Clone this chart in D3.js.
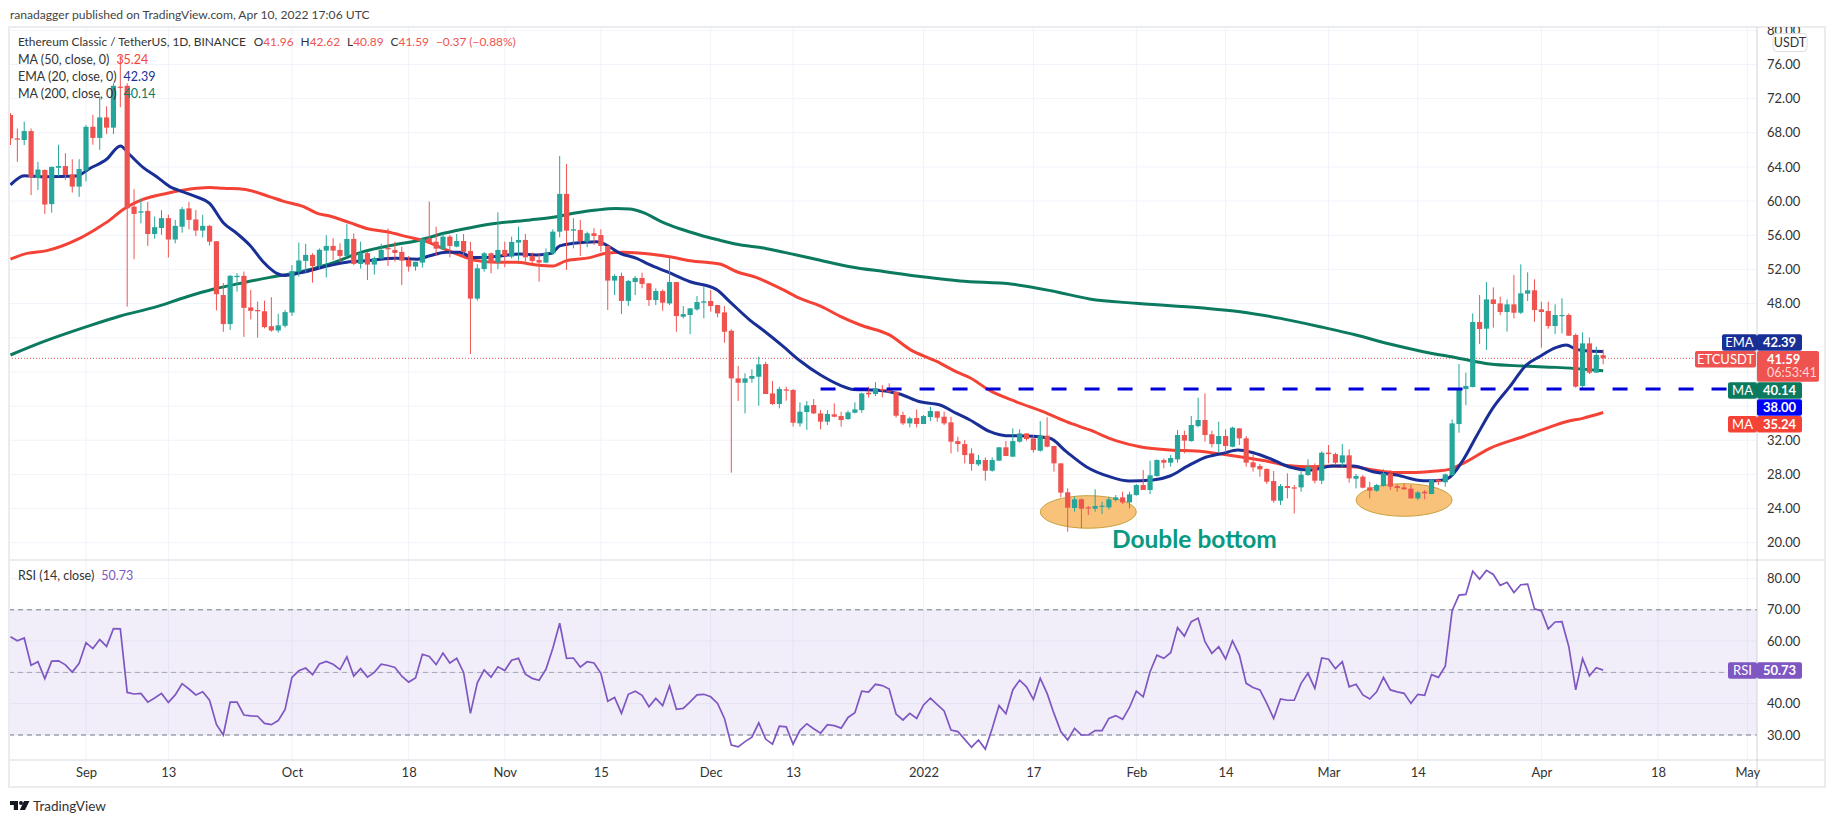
<!DOCTYPE html>
<html>
<head>
<meta charset="utf-8">
<title>ETCUSDT</title>
<script src="https://d3js.org/d3.v7.min.js"></script>
<style>
  html, body { margin: 0; padding: 0; background: #fff; overflow: hidden; }
  svg text { font-family: Lato, "Noto Sans", sans-serif; }
</style>
</head>
<body>
<svg id="chart" width="1834" height="823"></svg>
<script>
// one candle per day, first bar is 2021-08-21
const firstBar = Date.UTC(2021, 7, 21);

const opens = [70.08,67.35,67.15,68.2,62.7,63.65,59.65,63.9,64.1,63.1,61.7,63.6,68.7,67.4,69.8,68.6,73.4,73.5,59.35,58.65,58.85,56.15,56.85,58,55.5,57,59.15,57.85,56.55,57.1,55.3,49,45.6,51.1,51.25,47.55,47.25,47.1,45.35,44.85,45.4,46.95,51.75,53,53.7,52.4,54.2,
  54.75,54.28,53.58,55.57,52.64,53.9,52.57,53.27,54.5,54.28,54.05,53.1,52.33,52.8,55.65,55.25,54.36,55.84,54.67,55.33,54.16,48.58,52.05,53.89,52.8,54.28,53.5,55.14,55.45,53.58,53.1,52.8,53.89,56.42,60.84,56.54,56.62,55.25,56.23,56.03,54.75,50.69,51.23,48.31,50.53,51,50.37,
  48.41,49.47,48.02,50.52,46.46,46.66,47.32,48.1,48.3,47.83,46.97,44.82,39.24,38.73,39.2,39.44,40.92,37.48,36.24,37.95,37.88,33.97,35.3,36.12,35.14,34.17,35.03,34.83,34.48,35.22,35.53,37.56,37.41,38,37.88,37.68,34.95,33.97,34.6,33.9,34.71,35.38,34.75,34.09,31.9,31.55,
  30.46,29.17,29.68,28.43,29.6,31.17,30.07,31.83,32.8,32.22,30.77,32.53,31.32,29.29,25.9,24.06,25.08,24.14,23.98,24.2,24.14,25,25.31,24.72,25.58,26.75,26.17,27.81,29.68,29.37,29.76,32.61,31.9,33.66,34.37,32.69,31.55,32.49,31.24,33.39,32.22,29.41,28.98,28.63,27.22,24.92,26.64,
  26.48,26.48,27.92,29.09,27.26,30.54,30.38,29.37,30.23,27.49,27.73,26.48,26.09,26.63,28.12,26.63,26.48,26.32,25.19,25.97,25.7,27.34,27.07,27.92,33.89,37.99,38.23,45.84,45.06,48.49,48.02,47.01,47.91,46.93,49.16,49.55,47.32,47.13,45.37,46.54,46.66,44.32,38.35,43.34,39.91,41.96];
const highs = [70.3,68.5,69.3,68.5,64.6,63.7,64.05,66.6,65.6,64.9,64.9,68.9,70.1,72.2,71.1,73.8,77,73.8,61.4,60.3,59.9,58.2,58.95,58.4,57.8,59.3,59.9,58.95,58.4,57.2,55.3,50.4,51.35,51.55,51.75,49.6,48.25,48.35,48.75,46.8,47.25,52.5,55.15,55,53.9,54.45,56,
  55.65,55.05,57.3,56.2,55.25,54.08,53.5,55,56.8,55.25,54.67,53.58,52.9,55.76,59.94,57,56.15,56.03,56.15,56.15,55.22,52.6,54.04,53.97,58.69,55.25,55.84,57,56.15,53.97,53.89,54.47,56.7,65.29,64.35,57.99,57.79,56.43,56.82,56.7,54.75,51.43,51.62,50.77,51.23,51.62,50.37,
  49.78,49.66,53.49,50.52,47.71,47.44,48.88,49.98,49.59,47.83,47.71,44.98,40.69,39.83,40.3,41.78,41.19,38.93,38.27,38.27,38,36.43,36.59,36.82,35.53,35.53,36.31,35.34,35.46,36.43,37.56,38.27,38.81,38.46,38.66,37.68,35.34,34.75,35.61,34.95,35.92,35.38,35.34,34.75,32.41,32.02,
  31.05,30.27,29.99,29.99,31.17,31.9,33.39,33.27,32.8,32.61,34.25,34.68,31.32,29.29,26.36,25.39,25.19,24.3,26.25,24.8,25.39,25.58,25.97,25.97,26.87,28.51,29.6,29.76,29.88,30.27,33.19,33.12,34.83,36.98,37.49,33.12,34.17,33.27,33.58,33.39,32.49,30.27,29.21,28.71,28.39,26.87,28.12,
  26.75,28.51,29.76,29.29,30.69,31.44,30.54,31.55,30.93,28.04,27.92,27.14,26.87,28.59,28.51,26.87,26.95,26.75,26.05,26.17,27.45,27.53,28.12,34.44,40.92,39.91,46.85,49,50.52,49.9,48.81,48.49,51.34,52.59,51.66,50.84,48.22,48.22,47.91,48.61,46.85,44.51,44.63,44.04,42.95,42.62];
const lows = [66.57,64.6,66.55,60.7,61.3,58.5,58.65,62.9,62.5,61,60.5,62.3,66.6,66,67.85,67.85,71,47.65,53.2,57.4,54.75,55.6,56.05,53.4,55.05,56.3,56.7,55.9,55.75,54.8,47.2,44.7,44.9,49.4,44.1,46.15,44,45.1,44.7,44.6,45.2,46.55,51.15,51.6,50.45,51.95,51.05,
  53.1,52.9,53.5,52.5,52.1,50.75,51.4,53.18,52.4,52.9,50.18,51.74,51.86,52.2,55.06,53.58,54.28,53.42,54.59,53.7,42.1,48.35,51.74,51.55,52.05,52.25,53.3,53.03,52.9,52.72,50.57,52.72,53.7,55.76,51.94,54.47,53.58,54.59,54.86,54.08,47.25,49,46.78,47.72,49,49.79,47.72,
  47.83,47.17,47.83,44.7,46.27,44.43,47.17,46.27,47.05,46.39,43.42,28.2,36.6,35.14,38.73,36.04,37.41,36.12,35.73,36.63,33.6,33.6,33.2,35.07,33.27,33.78,34.68,33.58,34.36,35.14,35.22,36.98,37.17,37.02,37.48,34.64,33.78,33.5,33.5,33.9,34.24,34.17,33.78,30.46,30.65,29.29,
  28.43,28.98,27.26,28.32,29.6,30.15,30.07,31.71,31.95,30.54,30.66,31.17,28.32,25.31,21.29,23.63,21.68,23.24,23.63,23.36,23.9,24.8,24.53,24.02,25.5,26.17,25.7,27.73,28.71,28.9,29.37,30.46,31.83,33.5,31.83,31.17,30.54,30.54,31.17,31.44,28.9,28.32,27.73,26.87,24.69,24.41,25.19,
  23.43,25.97,27.81,26.95,26.87,29.29,29.21,28.9,27.03,26.36,26.36,25.19,25.97,26.56,26.17,25.97,26.17,25.19,24.99,25.08,25.7,26.75,26.56,27.73,32.88,36.12,38.19,43.26,42.56,45.18,46.66,44.71,46.27,46.78,48.3,45.88,42.83,45.06,44.43,44.51,44.2,38.15,37.95,39.75,39.91,40.89];
const closes = [67.35,67.2,68.2,62.8,63.7,59.6,64,64.1,63.05,61.7,63.75,68.7,67.4,69.8,68.6,73.5,73.3,59.15,58.5,58.8,56.15,56.95,58,55.5,57.1,59.05,57.8,56.55,57.1,55.25,49.1,45.6,51.25,51.25,47.5,47.15,47.1,45.25,44.85,45.45,47,51.8,53.05,53.7,52.4,54.3,54.75,
  54.2,53.58,55.57,52.64,53.9,52.57,53.3,54.28,54.35,53.93,53.03,52.33,52.9,55.53,55.18,54.43,55.84,54.75,55.33,54.05,48.58,52.13,53.89,52.8,54.28,53.58,55.22,55.45,53.42,52.99,52.8,53.97,56.42,60.84,56.54,56.7,55.33,56.23,55.92,54.75,50.69,51.23,48.31,50.65,51,50.3,48.42,
  49.47,48.1,50.52,46.54,46.77,47.44,48.18,48.26,47.71,46.85,44.7,39.24,38.73,39.24,39.52,40.88,37.41,36.24,38,37.8,34.05,35.34,36.08,35.14,34.17,35.07,34.75,34.36,35.26,35.61,37.48,37.37,38.07,37.84,37.68,34.87,33.97,34.56,33.9,34.83,35.42,34.64,33.97,31.83,31.55,30.26,
  29.21,29.68,28.43,29.68,31.17,30.15,31.9,32.8,32.14,30.85,32.53,31.24,29.29,25.86,24.1,25.08,23.98,24.02,24.3,24.33,25.08,25.31,24.72,25.66,26.75,26.17,27.89,29.68,29.37,29.92,32.61,31.95,33.78,34.37,32.61,31.55,32.49,31.32,33.47,32.22,29.37,28.82,28.59,27.14,24.92,26.64,26.4,
  26.33,27.96,28.9,27.26,30.54,30.38,29.37,30.23,27.53,27.8,26.44,26.09,26.75,28.12,26.56,26.4,26.25,25.19,25.89,25.78,27.34,27.14,28,33.97,38.07,38.35,45.84,45.02,48.49,47.95,47.01,47.91,46.93,49.2,49.55,47.24,47.01,45.37,46.66,46.66,44.24,38.27,43.34,39.91,41.98,41.59];

// moving averages, days counted from 2021-09-01
const ema20Days = [-11,-9,-6,-1.4,0.6,3,5,6.4,8.3,10.3,12.2,13.7,16.1,18,20,22,23.9,25.8,27.8,29,31.2,35.5,38.4,40.4,45.2,48.2,50.1,52.5,54.4,56.4,58.3,60.3,63.2,65.6,67.8,69,71,74.4,75.8,77.8,80.2,82.1,84.6,88,91.8,93.8,96.7,98.6,101.6,104,107,109.8,111.8,115,118.5,121.5,124.4,126.8,128.7,131.7,134,137,140.4,142.8,145.7,149.1,152,155.4,157.9,160.3,162.7,165.6,167.8,170,172.4,175.3,178.2,181.6,184.6,187.5,190.9,194.8,196.7,198.4,200.6,202.5,204.9,207.4,209.8,211.7,214.2,215.6,217.1,219,221];
const ema20 = [61.9,62.98,62.86,62.94,63.84,64.9,66.45,65.4,63.95,62.86,61.7,61.2,60.5,59.74,57.47,56.2,54.8,52.9,51.54,51.3,51.6,52.45,52.9,52.99,53.3,53.2,53.6,54,54,53.4,53.4,53.58,53.8,53.7,53.9,54.75,55.06,55.25,54.86,53.89,53.3,52.55,51.73,50.56,49.66,48.2,46.07,44.9,42.95,41.3,39.63,38.46,37.95,37.88,37.41,36.5,36.12,35.14,34.4,33,32.53,32.49,32.22,30.66,28.9,27.73,27.22,27.34,27.81,28.9,29.88,30.46,30.85,30.54,29.88,28.86,28.5,28.98,28.98,28.31,27.92,27.26,27.26,27.53,29.68,32.41,35.73,38.27,40.8,41.78,42.87,43.15,42.64,42.44,42.39];
const ma50Days = [-11,-8.6,-5.7,-1.4,1.6,3.5,5.2,8.3,11.7,16.1,18,20,22.9,26.8,28.7,31.7,33.6,35.5,38.4,40.9,43.8,46.7,49.6,52.5,55,56.9,59.8,62.7,65.6,68,69.9,73.4,75.8,78.2,82.1,85,88,92.3,94.8,97.7,101.6,104,107,109.8,112.8,117.1,120,124,126.8,128.7,131.7,135.5,139.4,142.8,146.2,150,153.5,157.9,161.7,165.6,169,172.4,175.3,178.2,181.6,184.6,187.5,190.4,193.8,196.7,198.6,200.6,204.5,209.3,212.7,215.6,218,221];
const ma50 = [53.2,53.88,54.2,55.45,56.8,57.8,58.9,60.2,60.9,61.5,61.6,61.5,61.4,60.5,60,59.35,58.6,58.25,57.48,56.8,56.4,55.84,55.25,54.28,53.5,53.03,52.83,52.83,52.52,52.4,53,53.38,53.89,54,53.8,53.49,53.02,52.63,51.73,51.03,49.6,48.6,47.71,46.54,45.49,44.3,42.64,41.2,40,39.34,37.8,36.5,35.34,34.17,33.2,31.95,31.24,30.85,30.74,30.35,29.95,29.49,29,28.9,28.98,28.9,28.51,28.23,28.23,28.39,28.59,29.29,31.05,32.41,33.39,34.17,34.56,35.24];
const ma200Days = [-11,-6.2,0.1,5,9.8,14.7,18.5,22.9,26.8,30.7,35.5,40.4,44.8,48.7,52.1,56,59.8,64.7,68,71,74.4,77.2,79.2,81.2,83.8,86.6,89.4,92.2,94.6,99,103.5,106.8,111.3,116.4,122.5,127.3,135,140.6,146.2,152.9,162.3,168.1,174,180.2,185,189.9,194.8,199.6,204.5,209.3,214.2,221];
const ma200 = [41.98,43.54,45.3,46.55,47.52,48.8,49.67,50.45,51.07,51.62,52.65,54.08,54.86,55.45,56.23,56.89,57.4,57.79,58.1,58.57,58.96,59.12,59.08,58.65,57.6,56.73,56.03,55.44,54.97,54.46,53.68,53.1,52.32,51.73,51.07,50.64,50.26,49.5,48.54,48.03,47.5,47.05,46.27,45.21,44.32,43.26,42.37,41.66,40.92,40.69,40.53,40.14];

// RSI, one value per candle
const rsi = [61.4,60.1,61,52.3,53.4,48,53.6,53.7,52.4,50.1,52.9,59.5,57.6,60.5,58.3,64,63.9,43.6,43.1,43.3,40.5,41.8,43.3,40.4,42.8,46.4,44.7,42.8,43.8,41.1,33.4,30,40.5,40.5,36.4,36.1,36,33.7,33.3,34.6,38.2,48.4,50.5,51.4,49.3,52.7,53.5,
  52.6,50.9,55,48.8,51.2,48.5,50,52.6,52.2,51.6,48.8,46.9,48.2,55.8,55.1,52.5,56.2,53,54.5,50,36.9,46.7,50.8,48.5,51.8,50.6,53.9,54.5,49.4,48.1,47.5,51,57.7,65.7,54.5,54.6,51.7,53.4,53,49.7,40.8,42,36.9,43,44,42.7,39.05,41.7,39.4,45.65,38.2,38.5,40.6,42.8,
  43,42.2,40.1,35.3,26.8,26.2,27.9,29.3,33.9,28.7,27.1,32.8,32.6,27.1,31.5,33.6,32,30.6,33.3,33,32.2,35.6,37.1,44,43.7,46.2,45.8,44.7,36.7,34.8,36.9,35.3,39.6,41.8,39.7,37.7,31.6,31.1,28.6,26.1,28.4,25.5,32.1,39.4,36.8,44.4,47.5,45.4,41.4,48.1,43.3,36.9,31.1,28.4,32.1,30,30,31.4,31.4,35.3,36.2,35,38.8,44,42.2,50.2,55.5,54.5,56.3,64.3,61.6,66.2,67.3,59.8,56.1,58.2,54.3,60.1,55.6,46.5,45.2,44.4,40.1,35.3,41.5,41.1,41.1,46.5,49.7,44.9,54.6,54.2,51.2,53.4,45.4,46.2,42.8,41.5,43.8,48.4,44.4,43.8,43.3,40.1,43,42.7,49.3,48.4,52,69.7,74.7,74.9,82.3,79.8,82.6,81.3,77.8,78.8,75.5,78,78.2,70.3,69.6,63.9,66.1,66.2,58.2,44.4,54.4,48.9,51.5,50.73];

// grid lines; the labels at 36, 40, 44 and RSI 50 sit under the price tags in the original
const priceTicks = [20,24,28,32,36,40,44,48,52,56,60,64,68,72,76,80];
const priceLabels = [20,24,28,32,48,52,56,60,64,68,72,76,80];
const rsiTicks = [30,40,50,60,70,80];
const rsiLabels = [30,40,60,70,80];
const timeTicks = ["2021-09-01","2021-09-13","2021-10-01","2021-10-18","2021-11-01","2021-11-15","2021-12-01","2021-12-13","2022-01-01","2022-01-17","2022-02-01","2022-02-14","2022-03-01","2022-03-14","2022-04-01","2022-04-18","2022-05-01"];
const timeLabels = ["Sep","13","Oct","18","Nov","15","Dec","13","2022","17","Feb","14","Mar","14","Apr","18","May"];

// drawings on the chart
const supportLevel = 38;
const supportStart = "2021-12-17";
const bottomDates = ["2022-01-25", "2022-03-12"];
const bottomPrices = [23.6, 25];
const lastPrice = 41.59;

const upColor = "#26a69a", downColor = "#ef5350";
const emaColor = "#1a2f96", ma50Color = "#f44336", ma200Color = "#0b7a5f", rsiColor = "#7e57c2";
const textColor = "#333";

const paneLeft = 9, axisX = 1757, frameRight = 1825, paneTop = 27, sep = 560, rsiBottom = 760, frameBottom = 787;

const svg = d3.select("#chart");

const dayDate = (d) => new Date(Date.UTC(2021, 8, 1) + d * 864e5);
const barDate = (i) => new Date(firstBar + i * 864e5);

const x = d3.scaleUtc()
  .domain([new Date("2021-09-01"), new Date("2022-04-01")])
  .range([86, 86 + 212 * 6.865]);

const y = d3.scaleLinear().domain([20, 80]).range([542.7, 30.3]);
const yRsi = d3.scaleLinear().domain([30, 80]).range([735, 578.5]);

const defs = svg.append("defs");
defs.append("clipPath").attr("id", "pricePane").append("rect")
  .attr("x", paneLeft).attr("y", paneTop).attr("width", axisX - paneLeft).attr("height", sep - paneTop);
defs.append("clipPath").attr("id", "rsiPane").append("rect")
  .attr("x", paneLeft).attr("y", sep).attr("width", axisX - paneLeft).attr("height", rsiBottom - sep);
defs.append("clipPath").attr("id", "priceAxis").append("rect")
  .attr("x", axisX).attr("y", paneTop).attr("width", frameRight - axisX).attr("height", sep - paneTop);

// header
svg.append("text").attr("x", 10).attr("y", 19).attr("font-size", 12.1).attr("fill", "#444")
  .text("ranadagger published on TradingView.com, Apr 10, 2022 17:06 UTC");

// grid
const grid = svg.append("g").attr("stroke", "#f0f3fa").attr("stroke-width", 1);
grid.selectAll(".vgrid").data(timeTicks).join("line")
  .attr("x1", (d) => x(new Date(d))).attr("x2", (d) => x(new Date(d)))
  .attr("y1", paneTop).attr("y2", rsiBottom);
grid.selectAll(".hgrid").data(priceTicks).join("line")
  .attr("x1", paneLeft).attr("x2", axisX)
  .attr("y1", (d) => y(d)).attr("y2", (d) => y(d));
grid.selectAll(".rgrid").data(rsiTicks).join("line")
  .attr("x1", paneLeft).attr("x2", axisX)
  .attr("y1", (d) => yRsi(d)).attr("y2", (d) => yRsi(d));

const pricePane = svg.append("g").attr("clip-path", "url(#pricePane)");

// last price line
pricePane.append("line")
  .attr("x1", paneLeft).attr("x2", axisX)
  .attr("y1", y(lastPrice)).attr("y2", y(lastPrice))
  .attr("stroke", downColor).attr("stroke-width", 1).attr("stroke-dasharray", "1 2");

// double bottom ellipses
pricePane.selectAll(".bottom").data(bottomDates).join("ellipse")
  .attr("cx", (d) => x(new Date(d)))
  .attr("cy", (d, i) => y(bottomPrices[i]))
  .attr("rx", 48).attr("ry", 16.3)
  .attr("fill", "#f8c27a").attr("stroke", "#c9a23f").attr("stroke-width", 1);

// moving averages
const drawLine = (days, vals, color) => {
  pricePane.append("path")
    .datum(days.map((d, i) => [d, vals[i]]))
    .attr("fill", "none").attr("stroke", color).attr("stroke-width", 3)
    .attr("d", d3.line()
      .x((d) => x(dayDate(d[0])))
      .y((d) => y(d[1]))
      .curve(d3.curveMonotoneX));
};
drawLine(ma200Days, ma200, ma200Color);
drawLine(ma50Days, ma50, ma50Color);
drawLine(ema20Days, ema20, emaColor);

// candles
const candles = pricePane.selectAll(".candle").data(opens).join("g")
  .attr("fill", (d, i) => (closes[i] >= d ? upColor : downColor))
  .attr("stroke", (d, i) => (closes[i] >= d ? upColor : downColor));
candles.append("line")
  .attr("x1", (d, i) => x(barDate(i))).attr("x2", (d, i) => x(barDate(i)))
  .attr("y1", (d, i) => y(highs[i])).attr("y2", (d, i) => y(lows[i]))
  .attr("stroke-width", 1);
candles.append("rect")
  .attr("stroke", "none")
  .attr("x", (d, i) => x(barDate(i)) - 2.6)
  .attr("width", 5.2)
  .attr("y", (d, i) => y(Math.max(d, closes[i])))
  .attr("height", (d, i) => Math.max(1.2, Math.abs(y(d) - y(closes[i]))));

// support level
pricePane.append("line")
  .attr("x1", x(new Date(supportStart))).attr("x2", axisX)
  .attr("y1", y(supportLevel)).attr("y2", y(supportLevel))
  .attr("stroke", "#0000d8").attr("stroke-width", 3).attr("stroke-dasharray", "15 18");

svg.append("text").attr("x", 1112).attr("y", 548)
  .attr("font-size", 24.5).attr("font-weight", 700).attr("fill", "#089981")
  .text("Double bottom");

// legend
const legendX = 18;
const legendTop = svg.append("text").attr("x", legendX).attr("y", 46).attr("font-size", 11.9).attr("fill", textColor);
legendTop.append("tspan").text("Ethereum Classic / TetherUS, 1D, BINANCE");
[["O", "41.96"], ["H", "42.62"], ["L", "40.89"], ["C", "41.59"]].forEach((p, i) => {
  legendTop.append("tspan").attr("dx", i ? 7 : 8).text(p[0]);
  legendTop.append("tspan").attr("fill", downColor).text(p[1]);
});
legendTop.append("tspan").attr("dx", 7).attr("fill", downColor).text("−0.37 (−0.88%)");

const legendNames = ["MA (50, close, 0)", "EMA (20, close, 0)", "MA (200, close, 0)"];
const legendValues = ["35.24", "42.39", "40.14"];
const legendColors = [ma50Color, emaColor, ma200Color];
legendNames.forEach((n, i) => {
  const t = svg.append("text").attr("x", legendX).attr("y", 63.5 + i * 17).attr("font-size", 12.5).attr("fill", textColor);
  t.append("tspan").text(n);
  t.append("tspan").attr("dx", 7).attr("fill", legendColors[i]).text(legendValues[i]);
});

// RSI pane
const rsiPane = svg.append("g").attr("clip-path", "url(#rsiPane)");
rsiPane.append("rect")
  .attr("x", paneLeft).attr("width", axisX - paneLeft)
  .attr("y", yRsi(70)).attr("height", yRsi(30) - yRsi(70))
  .attr("fill", rsiColor).attr("fill-opacity", 0.1);
[70, 50, 30].forEach((v) => {
  rsiPane.append("line")
    .attr("x1", paneLeft).attr("x2", axisX)
    .attr("y1", yRsi(v)).attr("y2", yRsi(v))
    .attr("stroke", "#787b86").attr("stroke-opacity", v === 50 ? 0.6 : 1)
    .attr("stroke-dasharray", "5 4");
});
rsiPane.append("path")
  .datum(rsi)
  .attr("fill", "none").attr("stroke", rsiColor).attr("stroke-width", 1.7)
  .attr("d", d3.line().x((d, i) => x(barDate(i))).y((d) => yRsi(d)));

const rsiLegend = svg.append("text").attr("x", 18).attr("y", 580).attr("font-size", 12.5).attr("fill", textColor);
rsiLegend.append("tspan").text("RSI (14, close)");
rsiLegend.append("tspan").attr("dx", 7).attr("fill", rsiColor).text("50.73");

// frame and separators
const frameLines = svg.append("g").attr("fill", "none").attr("stroke", "#eaecf0");
frameLines.append("rect").attr("x", paneLeft).attr("y", paneTop).attr("width", frameRight - paneLeft).attr("height", frameBottom - paneTop).attr("stroke-width", 2);
frameLines.append("line").attr("x1", paneLeft).attr("x2", frameRight).attr("y1", sep).attr("y2", sep).attr("stroke-width", 2);
frameLines.append("line").attr("x1", paneLeft).attr("x2", frameRight).attr("y1", rsiBottom).attr("y2", rsiBottom).attr("stroke-width", 2);
frameLines.append("line").attr("x1", axisX).attr("x2", axisX).attr("y1", paneTop).attr("y2", frameBottom).attr("stroke", "#d2d4da");

// axes
const styleAxis = (g) => {
  g.select(".domain").remove();
  g.selectAll("text").attr("fill", textColor).style("font-size", "13px").style("font-family", "Lato, 'Noto Sans', sans-serif");
};
svg.append("g")
  .attr("clip-path", "url(#priceAxis)")
  .append("g")
  .attr("transform", `translate(${axisX},0)`)
  .call(d3.axisRight(y).tickValues(priceLabels).tickFormat(d3.format(".2f")).tickSize(0).tickPadding(10))
  .call(styleAxis);
svg.append("g")
  .attr("transform", `translate(${axisX},0)`)
  .call(d3.axisRight(yRsi).tickValues(rsiLabels).tickFormat(d3.format(".2f")).tickSize(0).tickPadding(10))
  .call(styleAxis);
svg.append("g")
  .attr("transform", `translate(0,${rsiBottom})`)
  .call(d3.axisBottom(x)
    .tickValues(timeTicks.map((d) => new Date(d)))
    .tickFormat((d, i) => timeLabels[i])
    .tickSize(0).tickPadding(8))
  .call(styleAxis);

// USDT badge
svg.append("rect").attr("x", 1773).attr("y", 33.5).attr("width", 34).attr("height", 18).attr("rx", 4)
  .attr("fill", "#fff").attr("stroke", "#dcdee4");
svg.append("text").attr("x", 1790).attr("y", 47).attr("text-anchor", "middle").attr("font-size", 12.5).attr("fill", textColor).text("USDT");

// price tags on the axis
const tag = (name, w, value, tagTop, color) => {
  const h = 16.4;
  if (name) {
    svg.append("rect").attr("x", axisX - w).attr("y", tagTop).attr("width", w).attr("height", h).attr("rx", 2).attr("fill", color);
    svg.append("text").attr("x", axisX - w / 2).attr("y", tagTop + 12.5).attr("text-anchor", "middle")
      .attr("font-size", 13).attr("fill", "#fff").text(name);
  }
  svg.append("rect").attr("x", axisX).attr("y", tagTop).attr("width", 45).attr("height", h).attr("rx", 2).attr("fill", color);
  svg.append("text").attr("x", axisX + 22.5).attr("y", tagTop + 12.5).attr("text-anchor", "middle")
    .attr("font-size", 13).attr("font-weight", 700).attr("fill", "#fff").text(value);
};
tag("EMA", 35, "42.39", 334.3, emaColor);
svg.append("rect").attr("x", 1695).attr("y", 351).attr("width", 61).attr("height", 16.6).attr("rx", 2).attr("fill", downColor);
svg.append("text").attr("x", 1725.5).attr("y", 363.5).attr("text-anchor", "middle").attr("font-size", 13).attr("fill", "#fff").text("ETCUSDT");
svg.append("rect").attr("x", axisX).attr("y", 351).attr("width", 62).attr("height", 30.7).attr("rx", 2).attr("fill", downColor);
svg.append("text").attr("x", 1767).attr("y", 363.5).attr("font-size", 13).attr("font-weight", 700).attr("fill", "#fff").text("41.59");
svg.append("text").attr("x", 1767).attr("y", 377).attr("font-size", 12.5).attr("fill", "#ffd6d4").text("06:53:41");
tag("MA", 29, "40.14", 382.3, ma200Color);
tag("", 0, "38.00", 399.3, "#0000ff");
tag("MA", 29, "35.24", 416, ma50Color);
tag("RSI", 29, "50.73", 662.3, rsiColor);

// footer logo
const logo = svg.append("g").attr("transform", "translate(10,801)").attr("fill", "#131722");
logo.append("path").attr("d", "M0 0H8V9H3.8V4H0Z");
logo.append("circle").attr("cx", 11).attr("cy", 2).attr("r", 2);
logo.append("path").attr("d", "M14 0H19.5L15 9H9.8Z");
svg.append("text").attr("x", 33).attr("y", 810.5).attr("font-size", 13.5).attr("fill", "#333").text("TradingView");
</script>
</body>
</html>
